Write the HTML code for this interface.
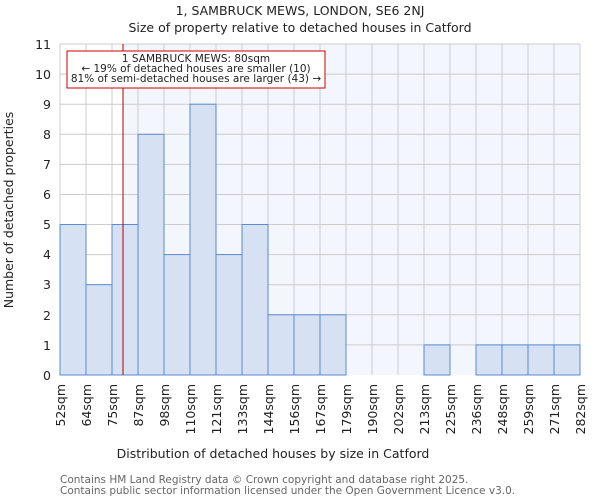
<!DOCTYPE html>
<html><head><style>body{margin:0;background:#fff}svg{display:block;font-family:"DejaVu Sans","Liberation Sans",sans-serif}</style></head>
<body>
<svg width="600" height="500" xmlns="http://www.w3.org/2000/svg">
<rect x="0" y="0" width="600" height="500" fill="#fff"/>
<rect x="123" y="44" width="457" height="331" fill="#f3f6fd"/>
<g stroke="#cccccc" stroke-width="1">
<line x1="60" y1="44" x2="580" y2="44"/><line x1="60" y1="74.1" x2="580" y2="74.1"/><line x1="60" y1="104.2" x2="580" y2="104.2"/><line x1="60" y1="134.3" x2="580" y2="134.3"/><line x1="60" y1="164.4" x2="580" y2="164.4"/><line x1="60" y1="194.5" x2="580" y2="194.5"/><line x1="60" y1="224.5" x2="580" y2="224.5"/><line x1="60" y1="254.6" x2="580" y2="254.6"/><line x1="60" y1="284.7" x2="580" y2="284.7"/><line x1="60" y1="314.8" x2="580" y2="314.8"/><line x1="60" y1="344.9" x2="580" y2="344.9"/>
<line x1="60" y1="44" x2="60" y2="375"/><line x1="86" y1="44" x2="86" y2="375"/><line x1="112" y1="44" x2="112" y2="375"/><line x1="138" y1="44" x2="138" y2="375"/><line x1="164" y1="44" x2="164" y2="375"/><line x1="190" y1="44" x2="190" y2="375"/><line x1="216" y1="44" x2="216" y2="375"/><line x1="242" y1="44" x2="242" y2="375"/><line x1="268" y1="44" x2="268" y2="375"/><line x1="294" y1="44" x2="294" y2="375"/><line x1="320" y1="44" x2="320" y2="375"/><line x1="346" y1="44" x2="346" y2="375"/><line x1="372" y1="44" x2="372" y2="375"/><line x1="398" y1="44" x2="398" y2="375"/><line x1="424" y1="44" x2="424" y2="375"/><line x1="450" y1="44" x2="450" y2="375"/><line x1="476" y1="44" x2="476" y2="375"/><line x1="502" y1="44" x2="502" y2="375"/><line x1="528" y1="44" x2="528" y2="375"/><line x1="554" y1="44" x2="554" y2="375"/><line x1="580" y1="44" x2="580" y2="375"/>
</g>
<g fill="#d6e1f3" stroke="#5b8bd0" stroke-width="1">
<rect x="60" y="224.5" width="26" height="150.5"/>
<rect x="86" y="284.7" width="26" height="90.3"/>
<rect x="112" y="224.5" width="26" height="150.5"/>
<rect x="138" y="134.3" width="26" height="240.7"/>
<rect x="164" y="254.6" width="26" height="120.4"/>
<rect x="190" y="104.2" width="26" height="270.8"/>
<rect x="216" y="254.6" width="26" height="120.4"/>
<rect x="242" y="224.5" width="26" height="150.5"/>
<rect x="268" y="314.8" width="26" height="60.2"/>
<rect x="294" y="314.8" width="26" height="60.2"/>
<rect x="320" y="314.8" width="26" height="60.2"/>
<rect x="424" y="344.9" width="26" height="30.1"/>
<rect x="476" y="344.9" width="26" height="30.1"/>
<rect x="502" y="344.9" width="26" height="30.1"/>
<rect x="528" y="344.9" width="26" height="30.1"/>
<rect x="554" y="344.9" width="26" height="30.1"/>
</g>
<line x1="123" y1="44" x2="123" y2="375" stroke="#b00000" stroke-width="1"/>
<rect x="67" y="51" width="258" height="37" fill="#fff" stroke="#cc0000" stroke-width="1"/>
<g font-size="10.5" text-anchor="middle" fill="#222">
<text x="196" y="62">1 SAMBRUCK MEWS: 80sqm</text>
<text x="196" y="72">← 19% of detached houses are smaller (10)</text>
<text x="196" y="82">81% of semi-detached houses are larger (43) →</text>
</g>
<g font-size="12.5" text-anchor="end" fill="#222">
<text x="51" y="380">0</text><text x="51" y="350">1</text><text x="51" y="320">2</text><text x="51" y="289">3</text><text x="51" y="259">4</text><text x="51" y="229">5</text><text x="51" y="199">6</text><text x="51" y="169">7</text><text x="51" y="139">8</text><text x="51" y="109">9</text><text x="51" y="79">10</text><text x="51" y="49">11</text>
</g>
<g font-size="12.5" text-anchor="end" fill="#222">
<text transform="translate(65,384) rotate(-90)">52sqm</text>
<text transform="translate(91,384) rotate(-90)">64sqm</text>
<text transform="translate(117,384) rotate(-90)">75sqm</text>
<text transform="translate(143,384) rotate(-90)">87sqm</text>
<text transform="translate(169,384) rotate(-90)">98sqm</text>
<text transform="translate(195,384) rotate(-90)">110sqm</text>
<text transform="translate(221,384) rotate(-90)">121sqm</text>
<text transform="translate(247,384) rotate(-90)">133sqm</text>
<text transform="translate(273,384) rotate(-90)">144sqm</text>
<text transform="translate(299,384) rotate(-90)">156sqm</text>
<text transform="translate(325,384) rotate(-90)">167sqm</text>
<text transform="translate(351,384) rotate(-90)">179sqm</text>
<text transform="translate(377,384) rotate(-90)">190sqm</text>
<text transform="translate(403,384) rotate(-90)">202sqm</text>
<text transform="translate(429,384) rotate(-90)">213sqm</text>
<text transform="translate(455,384) rotate(-90)">225sqm</text>
<text transform="translate(481,384) rotate(-90)">236sqm</text>
<text transform="translate(507,384) rotate(-90)">248sqm</text>
<text transform="translate(533,384) rotate(-90)">259sqm</text>
<text transform="translate(559,384) rotate(-90)">271sqm</text>
<text transform="translate(585,384) rotate(-90)">282sqm</text>
</g>
<text x="273" y="458" font-size="12.5" text-anchor="middle" fill="#222">Distribution of detached houses by size in Catford</text>
<text transform="translate(13,210) rotate(-90)" font-size="12.5" text-anchor="middle" fill="#222">Number of detached properties</text>
<text x="300" y="15" font-size="12.5" text-anchor="middle" fill="#222">1, SAMBRUCK MEWS, LONDON, SE6 2NJ</text>
<text x="300" y="32" font-size="12.5" text-anchor="middle" fill="#222">Size of property relative to detached houses in Catford</text>
<g font-size="10.5" fill="#666">
<text x="60" y="483">Contains HM Land Registry data © Crown copyright and database right 2025.</text>
<text x="60" y="494">Contains public sector information licensed under the Open Government Licence v3.0.</text>
</g>
</svg>
</body></html>
